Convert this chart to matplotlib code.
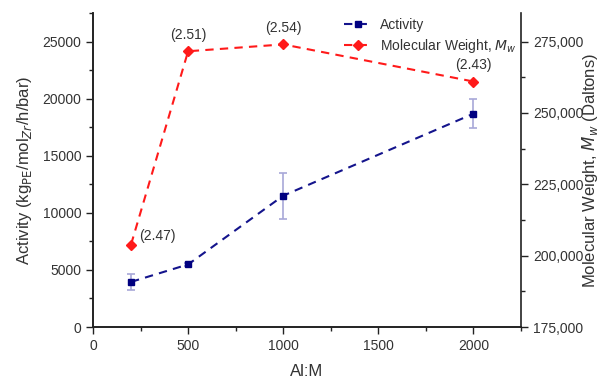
import matplotlib
matplotlib.use("Agg")
import matplotlib.pyplot as plt
from matplotlib.ticker import MultipleLocator, FuncFormatter

plt.rcParams['font.family'] = ['Liberation Sans', 'DejaVu Sans']

al_m = [200, 500, 1000, 2000]
activity = [3950, 5480, 11500, 18680]
activity_err = [730, 150, 2000, 1250]
mol_weight = [203900, 271600, 274000, 261000]
pdi_labels = ["(2.47)", "(2.51)", "(2.54)", "(2.43)"]

fig = plt.figure(figsize=(6.02, 3.78), dpi=100)
ax = fig.add_axes([0.1545, 0.1349, 0.7109, 0.8307])
ax2 = ax.twinx()

txt = '#333333'
navy = '#14148c'
red = '#ff1a1a'

l1, = ax.plot(al_m, activity, linestyle=(0, (4, 3)), color=navy, lw=1.5,
              marker='s', markersize=5, markerfacecolor='#000080', markeredgecolor='#000080',
              label='Activity', zorder=3)
ax.errorbar(al_m, activity, yerr=activity_err, fmt='none', ecolor='#a8a8d8',
            elinewidth=1.2, capsize=3, capthick=1.2, zorder=2)

l2, = ax2.plot(al_m, mol_weight, linestyle=(0, (4, 3)), color=red, lw=1.5,
               marker='D', markersize=5, markerfacecolor=red, markeredgecolor=red,
               label='Molecular Weight, $M_w$', zorder=3)

ax.set_xlim(0, 2250)
ax.set_ylim(0, 27500)
ax2.set_ylim(175000, 285000)

ax.xaxis.set_major_locator(MultipleLocator(500))
ax.xaxis.set_minor_locator(MultipleLocator(250))
ax.yaxis.set_major_locator(MultipleLocator(5000))
ax.yaxis.set_minor_locator(MultipleLocator(2500))
ax2.yaxis.set_major_locator(MultipleLocator(25000))
ax2.yaxis.set_minor_locator(MultipleLocator(12500))
ax2.yaxis.set_major_formatter(FuncFormatter(lambda v, p: f"{int(v):,}"))

for a in (ax, ax2):
    a.spines['top'].set_visible(False)
    a.tick_params(which='major', direction='out', length=5, width=1, labelsize=10, colors='#222222', labelcolor=txt)
    a.tick_params(which='minor', direction='out', length=3, width=1, colors='#222222')
    for s in a.spines.values():
        s.set_linewidth(1.2)
        s.set_color('#222222')
ax.spines['right'].set_visible(False)

ax.set_xlabel('Al:M', fontsize=12, color=txt, labelpad=8)
ax.set_ylabel('Activity (kg$_{\\mathrm{PE}}$/mol$_{Zr}$/h/bar)', fontsize=12, color=txt, labelpad=6)
ax2.set_ylabel('Molecular Weight, $M_w$ (Daltons)', fontsize=12, color=txt,
               rotation=90, va='center', ha='center')
ax2.yaxis.set_label_coords(1.162, 0.5)

offsets = [(6, 1), (0, 7), (0, 7), (0, 7)]
has = ['left', 'center', 'center', 'center']
for x, y, lab, off, ha in zip(al_m, mol_weight, pdi_labels, offsets, has):
    ax2.annotate(lab, (x, y), xytext=off, textcoords='offset points', ha=ha,
                 va='bottom', fontsize=10, color=txt)

leg = ax2.legend(handles=[l1, l2], loc='upper right', bbox_to_anchor=(1.02, 1.025),
                 frameon=False, fontsize=10, handlelength=2.0, handletextpad=0.6,
                 labelspacing=0.35)
for t in leg.get_texts():
    t.set_color(txt)

fig.savefig('out.png', dpi=100)
